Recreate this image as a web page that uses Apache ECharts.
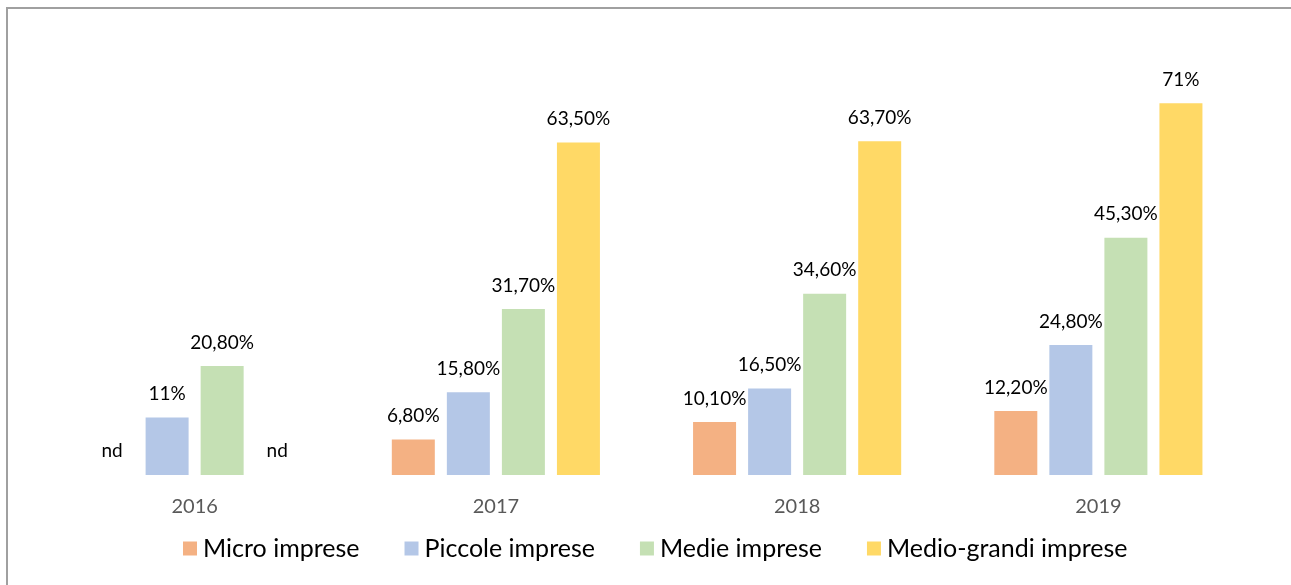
<!DOCTYPE html>
<html>
<head>
<meta charset="utf-8">
<script src="https://cdn.jsdelivr.net/npm/echarts@6/dist/echarts.min.js"></script>
<style>
html,body{margin:0;padding:0;background:#fff;}
#frame{position:absolute;left:6px;top:7px;width:1300px;height:600px;border-top:2px solid #a0a0a0;border-left:2px solid #a0a0a0;box-sizing:border-box;}
#chart{position:absolute;left:0;top:0;width:1291px;height:585px;}
</style>
</head>
<body>
<div id="frame"></div>
<div id="chart"></div>
<script>
var categories = ['2016', '2017', '2018', '2019'];
var seriesNames = ['Micro imprese', 'Piccole imprese', 'Medie imprese', 'Medio-grandi imprese'];
var micro = [null, 6.8, 10.1, 12.2];
var piccole = [11, 15.8, 16.5, 24.8];
var medie = [20.8, 31.7, 34.6, 45.3];
var medioGrandi = [null, 63.5, 63.7, 71];
var labelTexts = [
  ['nd', '6,80%', '10,10%', '12,20%'],
  ['11%', '15,80%', '16,50%', '24,80%'],
  ['20,80%', '31,70%', '34,60%', '45,30%'],
  ['nd', '63,50%', '63,70%', '71%']
];
var colors = ['#F4B183', '#B4C7E7', '#C5E0B4', '#FFD966'];

var allValues = [micro, piccole, medie, medioGrandi];
var series = allValues.map(function (vals, si) {
  return {
    name: seriesNames[si],
    type: 'bar',
    barWidth: 43,
    barGap: '28%',
    itemStyle: { color: colors[si] },
    data: vals.map(function (v, ci) {
      if (v === null) {
        return { value: 0, label: { show: true, position: 'top', distance: 15, formatter: labelTexts[si][ci] } };
      }
      return { value: v };
    }),
    label: {
      show: true,
      position: 'top',
      distance: 14,
      fontFamily: 'Lato',
      fontSize: 19,
      color: '#000',
      formatter: function (p) { return labelTexts[si][p.dataIndex]; }
    }
  };
});

var chart = echarts.init(document.getElementById('chart'));
chart.setOption({
  animation: false,
  legend: {
    bottom: 24,
    left: 183,
    padding: 0,
    itemWidth: 14,
    itemHeight: 14,
    itemGap: 45,
    icon: 'rect',
    textStyle: { fontFamily: 'Lato', fontSize: 25, color: '#000', padding: [0, 0, 0, 1] },
    data: seriesNames
  },
  grid: { left: 44, right: 42, top: 56, bottom: 110 },
  xAxis: {
    type: 'category',
    data: categories,
    axisLine: { show: false },
    axisTick: { show: false },
    axisLabel: { fontFamily: 'Lato', fontSize: 20, color: '#595959', margin: 22 }
  },
  yAxis: {
    type: 'value',
    min: 0,
    max: 80,
    show: false
  },
  series: series
});
</script>
</body>
</html>
